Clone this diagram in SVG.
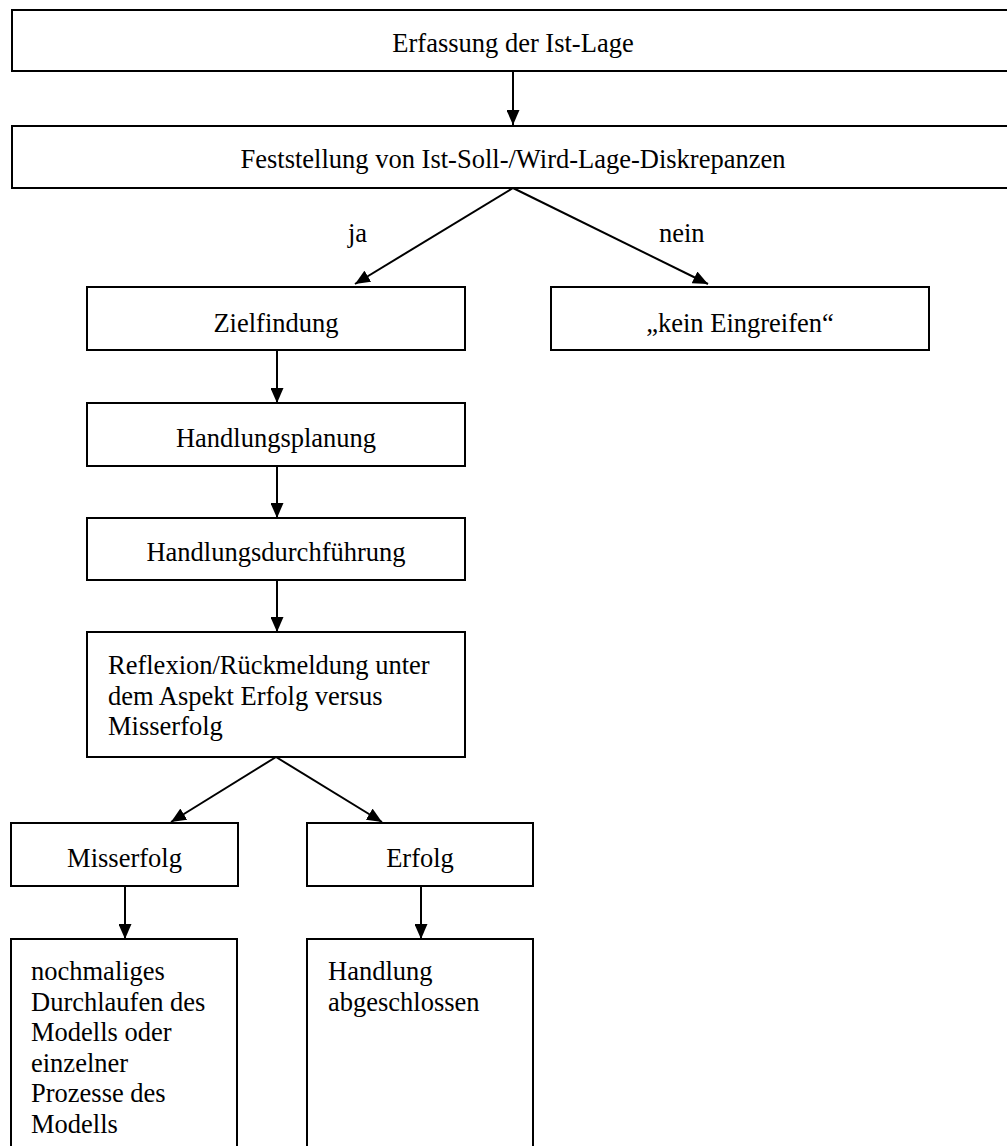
<svg xmlns="http://www.w3.org/2000/svg" width="1007" height="1146" viewBox="0 0 1007 1146">
<style>
.box{fill:#fff;stroke:#000;stroke-width:2}
.t{font-family:"Liberation Serif","Times New Roman",serif;font-size:26.5px;fill:#000}
.c{text-anchor:middle}
.edge{stroke:#000;stroke-width:2;fill:none;marker-end:url(#ah)}
</style>
<defs>
<marker id="ah" markerUnits="userSpaceOnUse" markerWidth="16" markerHeight="13" refX="15" refY="6.5" orient="auto">
<path d="M0,0 L15,6.5 L0,13 z" fill="#000"/>
</marker>
</defs>
<rect width="1007" height="1146" fill="#fff"/>
<g id="connectors">
<line class="edge" x1="513" y1="71" x2="513" y2="125"/>
<line class="edge" x1="513" y1="188" x2="355" y2="284"/>
<line class="edge" x1="513" y1="188" x2="708" y2="284"/>
<line class="edge" x1="277" y1="351" x2="277" y2="403"/>
<line class="edge" x1="277" y1="466" x2="277" y2="518"/>
<line class="edge" x1="277" y1="580" x2="277" y2="632"/>
<line class="edge" x1="276" y1="757" x2="171" y2="822"/>
<line class="edge" x1="276" y1="757" x2="382" y2="822"/>
<line class="edge" x1="125" y1="886" x2="125" y2="939"/>
<line class="edge" x1="421" y1="886" x2="421" y2="939"/>
</g>
<g id="n-ist-lage">
<rect class="box" x="12" y="10" width="1010" height="61"/>
<text class="t c" x="513" y="52">Erfassung der Ist-Lage</text>
</g>
<g id="n-diskrepanzen">
<rect class="box" x="12" y="126" width="1010" height="62"/>
<text class="t c" x="513" y="168">Feststellung von Ist-Soll-/Wird-Lage-Diskrepanzen</text>
</g>
<g id="labels">
<text class="t" x="348" y="242">ja</text>
<text class="t" x="659" y="242">nein</text>
</g>
<g id="n-zielfindung">
<rect class="box" x="87" y="287" width="378" height="63"/>
<text class="t c" x="276" y="332">Zielfindung</text>
</g>
<g id="n-kein-eingreifen">
<rect class="box" x="551" y="287" width="378" height="63"/>
<text class="t c" x="740" y="332">„kein Eingreifen“</text>
</g>
<g id="n-handlungsplanung">
<rect class="box" x="87" y="403" width="378" height="63"/>
<text class="t c" x="276" y="447">Handlungsplanung</text>
</g>
<g id="n-handlungsdurchfuehrung">
<rect class="box" x="87" y="518" width="378" height="62"/>
<text class="t c" x="276" y="561">Handlungsdurchführung</text>
</g>
<g id="n-reflexion">
<rect class="box" x="87" y="632" width="378" height="125"/>
<text class="t" x="108" y="674">Reflexion/Rückmeldung unter</text>
<text class="t" x="108" y="704.5">dem Aspekt Erfolg versus</text>
<text class="t" x="108" y="735">Misserfolg</text>
</g>
<g id="n-misserfolg">
<rect class="box" x="11" y="823" width="227" height="63"/>
<text class="t c" x="124.5" y="867">Misserfolg</text>
</g>
<g id="n-erfolg">
<rect class="box" x="307" y="823" width="226" height="63"/>
<text class="t c" x="420" y="867">Erfolg</text>
</g>
<g id="n-nochmaliges">
<rect class="box" x="11" y="939" width="226" height="220"/>
<text class="t" x="31" y="980">nochmaliges</text>
<text class="t" x="31" y="1010.5">Durchlaufen des</text>
<text class="t" x="31" y="1041">Modells oder</text>
<text class="t" x="31" y="1071.5">einzelner</text>
<text class="t" x="31" y="1102">Prozesse des</text>
<text class="t" x="31" y="1132.5">Modells</text>
</g>
<g id="n-abgeschlossen">
<rect class="box" x="307" y="939" width="226" height="220"/>
<text class="t" x="328" y="980">Handlung</text>
<text class="t" x="328" y="1010.5">abgeschlossen</text>
</g>
</svg>
